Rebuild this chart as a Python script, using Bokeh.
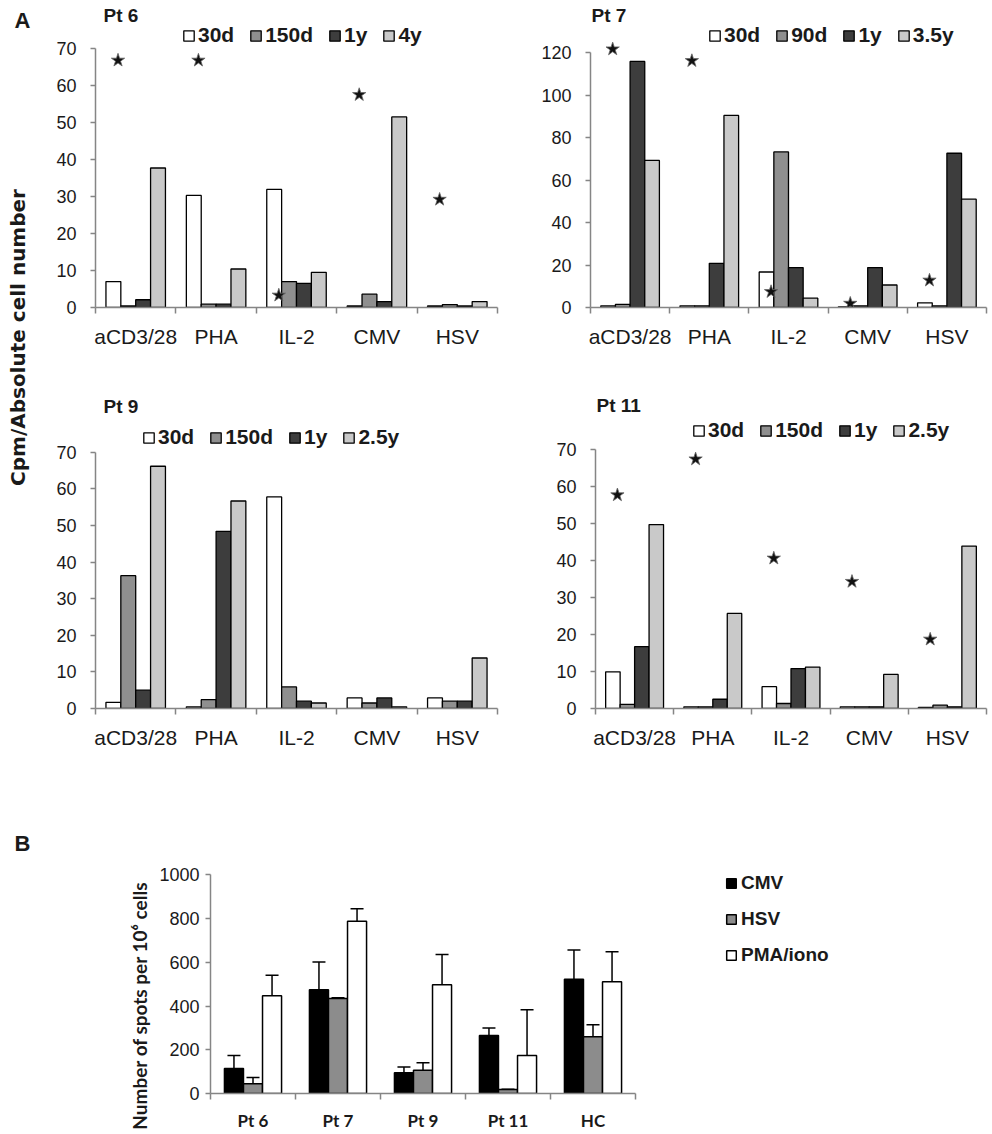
import numpy as np
from bokeh.plotting import figure
from bokeh.models import (Range1d, FixedTicker, Label, Legend, LegendItem,
                          ColumnDataSource, Whisker, TeeHead)
from bokeh.layouts import row, column
from bokeh.embed import file_html
from bokeh.resources import INLINE

# ---------------- data ----------------
stimuli = ["aCD3/28", "PHA", "IL-2", "CMV", "HSV"]

pt6_times = ["30d", "150d", "1y", "4y"]
pt6_30d = [7.0, 30.3, 31.9, 0.4, 0.4]
pt6_150d = [0.4, 0.9, 7.0, 3.6, 0.8]
pt6_1y = [2.1, 0.9, 6.5, 1.6, 0.4]
pt6_4y = [37.7, 10.4, 9.5, 51.5, 1.6]
pt6_stars = [66.8, 66.8, 3.3, 57.5, 29.2]

pt7_times = ["30d", "90d", "1y", "3.5y"]
pt7_30d = [0.8, 0.8, 16.7, 0.3, 2.2]
pt7_90d = [1.5, 0.8, 73.2, 0.8, 0.8]
pt7_1y = [115.8, 20.8, 18.8, 18.8, 72.6]
pt7_35y = [69.2, 90.4, 4.4, 10.6, 51.0]
pt7_stars = [121.6, 116.1, 7.4, 1.9, 12.8]

pt9_times = ["30d", "150d", "1y", "2.5y"]
pt9_30d = [1.7, 0.45, 57.8, 2.9, 2.9]
pt9_150d = [36.3, 2.4, 5.9, 1.5, 2.0]
pt9_1y = [5.0, 48.4, 2.0, 2.9, 2.0]
pt9_25y = [66.2, 56.7, 1.5, 0.45, 13.8]

pt11_times = ["30d", "150d", "1y", "2.5y"]
pt11_30d = [9.9, 0.45, 5.9, 0.45, 0.3]
pt11_150d = [1.1, 0.45, 1.35, 0.45, 0.9]
pt11_1y = [16.7, 2.5, 10.8, 0.45, 0.45]
pt11_25y = [49.7, 25.7, 11.2, 9.2, 43.9]
pt11_stars = [57.7, 67.4, 40.6, 34.3, 18.7]

groups_b = ["Pt 6", "Pt 7", "Pt 9", "Pt 11", "HC"]
assays_b = ["CMV", "HSV", "PMA/iono"]
cmv_b = [114, 474, 95, 265, 523]
cmv_err = [60, 128, 26, 35, 133]
hsv_b = [45, 435, 106, 18, 259]
hsv_err = [28, 3, 35, 2, 56]
pma_b = [447, 788, 497, 174, 511]
pma_err = [94, 57, 139, 209, 137]

# ---------------- styles ----------------
A_COLORS = ["#ffffff", "#8f8f8f", "#3d3d3d", "#c9c9c9"]
B_COLORS = ["#000000", "#8c8c8c", "#ffffff"]
AXIS_COLOR = "#858585"
TXT = "#1a1a1a"
FONT = "Liberation Sans"


def blank_fig(w, h):
    f = figure(width=w, height=h, output_backend="svg", toolbar_location=None,
               x_axis_location=None, y_axis_location=None,
               min_border_left=0, min_border_right=0, min_border_top=0,
               min_border_bottom=0,
               x_range=Range1d(0, 1), y_range=Range1d(0, 1))
    f.xgrid.visible = False
    f.ygrid.visible = False
    f.outline_line_color = None
    return f


def new_fig(w, h, l, r, b, xend, ytop_ext):
    p = figure(width=w, height=h, x_range=Range1d(0, xend), y_range=Range1d(0, ytop_ext),
               output_backend="svg", toolbar_location=None,
               min_border_left=l, min_border_right=r, min_border_top=0, min_border_bottom=b)
    p.xgrid.visible = False
    p.ygrid.visible = False
    p.outline_line_color = None
    for ax in (p.xaxis[0], p.yaxis[0]):
        ax.axis_line_color = AXIS_COLOR
        ax.axis_line_width = 1.5
        ax.major_tick_line_color = AXIS_COLOR
        ax.major_tick_line_width = 1.5
        ax.minor_tick_line_color = AXIS_COLOR
        ax.minor_tick_line_width = 1.5
        ax.major_label_text_font = FONT
        ax.major_label_text_color = TXT
    return p


def style_x(p, labels, size, font=FONT, bold=False, standoff=10):
    ax = p.xaxis[0]
    n = len(labels)
    centers = [i + 0.5 for i in range(n)]
    ax.ticker = FixedTicker(ticks=centers, minor_ticks=list(range(n + 1)))
    ax.major_label_overrides = {c: lab for c, lab in zip(centers, labels)}
    ax.bounds = (0, n)
    ax.major_tick_out = 0
    ax.major_tick_in = 0
    ax.minor_tick_out = 6
    ax.minor_tick_in = 0
    ax.major_label_text_font_size = size
    ax.major_label_text_font = font
    ax.major_label_text_font_style = "bold" if bold else "normal"
    ax.major_label_standoff = standoff


def style_y(p, ymax, step, size, standoff=6):
    ax = p.yaxis[0]
    ax.ticker = FixedTicker(ticks=list(range(0, ymax + 1, step)), minor_ticks=[])
    ax.bounds = (0, ymax)
    ax.major_tick_out = 5
    ax.major_tick_in = 0
    ax.major_label_text_font_size = size
    ax.major_label_standoff = standoff


def screen_label(p, text, x, y, size, bold=True, angle=0.0, font=FONT, align="left"):
    p.add_layout(Label(x=x, y=y, x_units="screen", y_units="screen", text=text,
                       text_font=font, text_font_size=size,
                       text_font_style="bold" if bold else "normal",
                       text_color=TXT, text_baseline="middle", text_align=align,
                       angle=angle))


def panel_a(canvas, frame_left, frame_right, ymax_px, zero_px, ymax, step, title,
            times, series, stars, title_pos, legend_pos):
    cx, cy, w, h = canvas
    l = frame_left - cx
    r = cx + w - frame_right
    b = cy + h - zero_px
    ytop_ext = ymax * (zero_px - cy) / (zero_px - ymax_px)
    p = new_fig(w, h, l, r, b, len(stimuli), ytop_ext)
    style_x(p, stimuli, "21px", standoff=11)
    style_y(p, ymax, step, "18px", standoff=14)
    fl = frame_left
    fb = zero_px
    bw = 0.185
    base = np.arange(len(stimuli)) + 0.5
    renderers = []
    for k, (vals, col) in enumerate(zip(series, A_COLORS)):
        src = ColumnDataSource(dict(x=base + (k - 1.5) * bw, top=vals))
        rr = p.vbar(x="x", top="top", width=bw, source=src, fill_color=col,
                    line_color="black", line_width=1.3)
        renderers.append(rr)
    if stars is not None:
        p.scatter(x=base - 0.22, y=stars, marker="star", size=14,
                  fill_color="#111111", line_color="#666666", line_width=0.8)
    screen_label(p, title, max(title_pos[0], fl + 1) - fl, fb - title_pos[1], "19px")
    items = [LegendItem(label=tm, renderers=[rr]) for tm, rr in zip(times, renderers)]
    leg = Legend(items=items, orientation="horizontal",
                 location=(legend_pos[0] - fl, fb - (legend_pos[1] + 12)),
                 label_text_font=FONT, label_text_font_size="21px",
                 label_text_font_style="bold", label_text_color=TXT,
                 glyph_width=13, glyph_height=13, label_standoff=3, spacing=15,
                 padding=0, margin=0, border_line_color=None,
                 background_fill_alpha=0, label_height=24)
    p.add_layout(leg)
    return p


RIGHT = 990
TOP_H, MID_H = 395, 375
p6 = panel_a((40, 0, 490, TOP_H), 95, 497, 48, 307, 70, 10, "Pt 6", pt6_times,
             [pt6_30d, pt6_150d, pt6_1y, pt6_4y], pt6_stars, (103, 15), (182, 35))
p7 = panel_a((530, 0, RIGHT - 530, TOP_H), 590, 986, 52, 307, 120, 20, "Pt 7", pt7_times,
             [pt7_30d, pt7_90d, pt7_1y, pt7_35y], pt7_stars, (585, 15), (708, 35))
p9 = panel_a((40, TOP_H, 490, MID_H), 95, 497, 452, 709, 70, 10, "Pt 9", pt9_times,
             [pt9_30d, pt9_150d, pt9_1y, pt9_25y], None, (103, 407), (142, 438))
p11 = panel_a((530, TOP_H, RIGHT - 530, MID_H), 595, 986, 449, 708, 70, 10, "Pt 11", pt11_times,
              [pt11_30d, pt11_150d, pt11_1y, pt11_25y], pt11_stars, (587, 405), (692, 430))

# y label figure for panel A
ya_h = TOP_H + MID_H
yl = blank_fig(40, ya_h)
screen_label(yl, "A", 14, ya_h - 20, "22px")
screen_label(yl, "Cpm/Absolute cell number", 17, ya_h - 337, "20px",
             angle=np.pi / 2, font="DejaVu Sans", align="center")

# ---------------- panel B ----------------
bcy = TOP_H + MID_H
bh = 1133 - bcy
bl_w = 156
b_frame_left, b_top_px, b_zero_px = 210, 875, 1095
cat_px = 85
pb_w = RIGHT - bl_w
b_bottom = bcy + bh - b_zero_px
b_xend = (RIGHT - b_frame_left) / cat_px
b_yext = 1000 * (b_zero_px - bcy) / (b_zero_px - b_top_px)
pb = new_fig(pb_w, bh, b_frame_left - bl_w, 0, b_bottom, b_xend, b_yext)
style_x(pb, groups_b, "17px", font="Lato", bold=True, standoff=10)
style_y(pb, 1000, 200, "18px")

wb = 0.224
baseb = np.arange(len(groups_b)) + 0.5
rends_b = []
for k, (vals, errs, col) in enumerate(zip([cmv_b, hsv_b, pma_b], [cmv_err, hsv_err, pma_err], B_COLORS)):
    xs = baseb + (k - 1) * wb
    src = ColumnDataSource(dict(x=xs, top=vals, upper=np.array(vals) + np.array(errs)))
    rr = pb.vbar(x="x", top="top", width=wb, source=src, fill_color=col,
                 line_color="black", line_width=1.5)
    rends_b.append(rr)
    pb.add_layout(Whisker(source=src, base="x", lower="top", upper="upper",
                          dimension="height", line_color="black", line_width=1.5,
                          lower_head=None,
                          upper_head=TeeHead(size=13, line_color="black", line_width=1.5)))
legb = Legend(items=[LegendItem(label=a, renderers=[rr]) for a, rr in zip(assays_b, rends_b)],
              orientation="vertical",
              location=(725 - b_frame_left, b_zero_px - (957 + 11)),
              label_text_font=FONT, label_text_font_size="19px",
              label_text_font_style="bold", label_text_color=TXT,
              glyph_width=12, glyph_height=12, label_standoff=4, spacing=14,
              padding=0, margin=0, border_line_color=None,
              background_fill_alpha=0, label_height=22)
pb.add_layout(legb)

# label figure for panel B (whole canvas is its frame)
bl_fig = blank_fig(bl_w, bh)
b_canvas_bottom = bcy + bh
screen_label(bl_fig, "B", 14, b_canvas_bottom - 843, "22px")
screen_label(bl_fig, "Number of spots per 10\u2076 cells", 139, b_canvas_bottom - 1005, "19px",
             angle=np.pi / 2, font="Lato", align="center")

layout = column(row(yl, column(row(p6, p7), row(p9, p11))), row(bl_fig, column(pb)))

open("out.html", "w").write(file_html(layout, INLINE))
